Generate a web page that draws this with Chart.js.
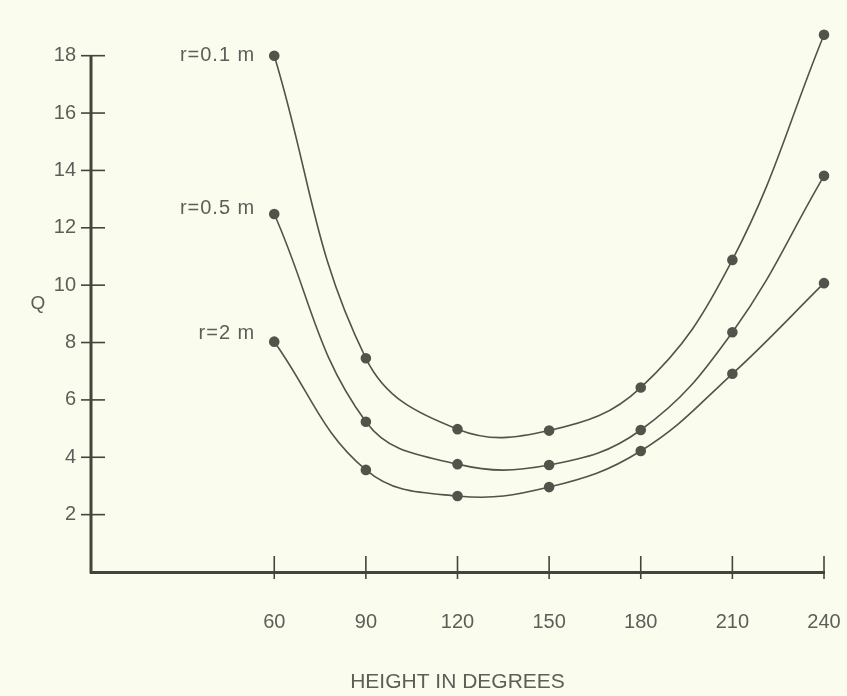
<!DOCTYPE html>
<html>
<head>
<meta charset="utf-8">
<script src="https://cdn.jsdelivr.net/npm/chart.js@4"></script>
<style>
  html, body { margin: 0; padding: 0; background: #fafcee; }
  #wrap { width: 847px; height: 696px; }
</style>
</head>
<body>
<div id="wrap"><canvas id="chartQ"></canvas></div>
<script>
// data
const heights = [60, 90, 120, 150, 180, 210, 240];
const q01 = [18.0, 7.45, 4.98, 4.93, 6.43, 10.88, 18.73];
const q05 = [12.48, 5.24, 3.76, 3.73, 4.95, 8.36, 13.81];
const q2 = [8.03, 3.56, 2.65, 2.96, 4.22, 6.91, 10.07];
const seriesNames = ['r=0.1 m', 'r=0.5 m', 'r=2 m'];
const yTicks = [2, 4, 6, 8, 10, 12, 14, 16, 18];
const xTicks = [60, 90, 120, 150, 180, 210, 240];

const ink = '#51544a';
const axisInk = '#42453b';
const textInk = '#5d5e58';
const font = 'Liberation Sans, Arial, sans-serif';

function series(vals, name) {
    return {
        label: name,
        data: heights.map((h, i) => ({ x: h, y: vals[i] })),
        borderColor: ink,
        backgroundColor: ink,
        borderWidth: 1.6,
        pointRadius: 4.5,
        tension: 0.4,
        clip: false
    };
}

// y axis line up to the top tick, crossing tick marks, "Q" and the curve names
const extras = {
    id: 'extras',
    afterDraw(chart) {
        const ctx = chart.ctx;
        const xs = chart.scales.x, ys = chart.scales.y;
        const a = chart.chartArea;
        const top = ys.getPixelForValue(yTicks[yTicks.length - 1]);
        ctx.save();
        ctx.strokeStyle = axisInk;
        ctx.lineWidth = 3;
        ctx.beginPath();
        ctx.moveTo(a.left, a.bottom + 1.5);
        ctx.lineTo(a.left, top);
        ctx.stroke();

        ctx.lineWidth = 1.6;
        yTicks.forEach(v => {
            const py = ys.getPixelForValue(v);
            ctx.beginPath();
            ctx.moveTo(a.left - 10, py);
            ctx.lineTo(a.left + 14, py);
            ctx.stroke();
        });
        xTicks.forEach(v => {
            const px = xs.getPixelForValue(v);
            ctx.beginPath();
            ctx.moveTo(px, a.bottom - 16);
            ctx.lineTo(px, a.bottom + 7);
            ctx.stroke();
        });

        ctx.fillStyle = textInk;
        ctx.font = '19px ' + font;
        ctx.textAlign = 'center';
        ctx.textBaseline = 'middle';
        ctx.fillText('Q', 38, ys.getPixelForValue(9.35));

        ctx.font = '20px ' + font;
        ctx.textAlign = 'right';
        ctx.letterSpacing = '1px';
        const lift = [0, 6, 8];
        chart.data.datasets.forEach((ds, i) => {
            const pt = chart.getDatasetMeta(i).data[0];
            ctx.fillText(seriesNames[i], pt.x - 19, pt.y - lift[i]);
        });
        ctx.restore();
    }
};

const chartQ = document.getElementById('chartQ');
chartQ.width = chartQ.parentNode.clientWidth;
chartQ.height = chartQ.parentNode.clientHeight;

new Chart(chartQ, {
    type: 'line',
    data: {
        datasets: [series(q01, seriesNames[0]), series(q05, seriesNames[1]), series(q2, seriesNames[2])]
    },
    options: {
        responsive: false,
        animation: false,
        layout: { padding: { top: 27, right: 23, left: 0, bottom: 0 } },
        plugins: { legend: { display: false }, tooltip: { enabled: false } },
        scales: {
            x: {
                type: 'linear',
                min: 0,
                max: 240,
                afterBuildTicks: s => { s.ticks = xTicks.map(v => ({ value: v })); },
                afterFit: s => { s.height = 124; s.paddingLeft = 0; s.paddingRight = 0; },
                grid: { display: false, drawTicks: false },
                border: { display: true, color: axisInk, width: 3 },
                ticks: {
                    padding: 38,
                    maxRotation: 0,
                    color: textInk,
                    font: { family: font, size: 20 }
                },
                title: {
                    display: true,
                    text: 'HEIGHT IN DEGREES',
                    color: textInk,
                    font: { family: font, size: 21 },
                    padding: { top: 0, bottom: 1 }
                }
            },
            y: {
                type: 'linear',
                min: 0,
                max: 19,
                afterBuildTicks: s => { s.ticks = yTicks.map(v => ({ value: v })); },
                afterFit: s => { s.width = 91; },
                grid: { display: false, drawTicks: false },
                border: { display: false },
                ticks: {
                    padding: 15,
                    color: textInk,
                    font: { family: font, size: 20 }
                }
            }
        }
    },
    plugins: [extras]
});
</script>
</body>
</html>
